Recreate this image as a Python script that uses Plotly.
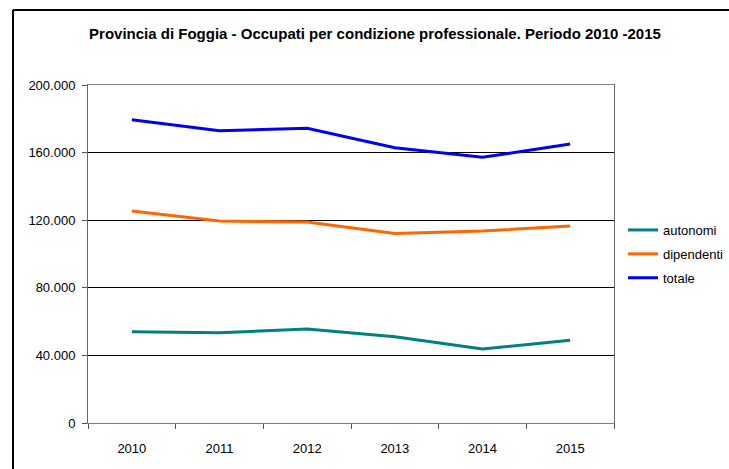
import plotly.graph_objects as go

anni = ["2010", "2011", "2012", "2013", "2014", "2015"]
autonomi = [54000, 53400, 55600, 51100, 43800, 48900]
dipendenti = [125400, 119500, 118900, 112200, 113600, 116600]
totale = [179500, 173000, 174400, 162900, 157200, 165100]

y_tickvals = [0, 40000, 80000, 120000, 160000, 200000]
y_ticktext = ["0", "40.000", "80.000", "120.000", "160.000", "200.000"]

W, H = 729, 469
L, R, T, B = 88, 115, 85, 46
pw, ph = W - L - R, H - T - B

font = "Liberation Sans, Arial, sans-serif"

fig = go.Figure()
for name, vals, col, grp in [("autonomi", autonomi, "#008080", "a"),
                             ("dipendenti", dipendenti, "#FF6600", "b"),
                             ("totale", totale, "#0000FF", "c")]:
    fig.add_trace(go.Scatter(x=anni, y=vals, name=name, mode="lines",
                             line=dict(color=col, width=3), legendgroup=grp))

def px2x(p):
    return (p - L) / pw

def py2y(p):
    return (H - B - p) / ph

# outer frame (left and top edges visible)
fig.add_shape(type="line", xref="paper", yref="paper",
              x0=px2x(13), x1=px2x(13), y0=py2y(10), y1=py2y(H + 5),
              line=dict(color="black", width=2))
fig.add_shape(type="line", xref="paper", yref="paper",
              x0=px2x(13), x1=px2x(W + 5), y0=py2y(10), y1=py2y(10),
              line=dict(color="black", width=2))

fig.update_layout(
    width=W, height=H,
    margin=dict(l=L, r=R, t=T, b=B, autoexpand=False),
    paper_bgcolor="white", plot_bgcolor="white",
    font=dict(family=font, size=13, color="black"),
    title=dict(text="<b>Provincia di Foggia - Occupati per condizione professionale. Periodo 2010 -2015</b>",
               x=375 / W, xanchor="center", y=1 - 34 / H, yanchor="middle",
               font=dict(family=font, size=15, color="black")),
    legend=dict(x=px2x(623), xanchor="left", y=py2y(254), yanchor="middle",
                font=dict(family=font, size=13, color="black"),
                bgcolor="rgba(0,0,0,0)", tracegroupgap=4),
    showlegend=True,
)
fig.update_xaxes(type="category", range=[-0.5, 5.5], tickson="boundaries",
                 ticks="outside", ticklen=5, tickcolor="#555555",
                 ticklabelstandoff=13,
                 showline=True, linecolor="#808080", mirror=True, linewidth=1,
                 showgrid=False, tickfont=dict(size=13))
fig.update_yaxes(range=[0, 200000], tickvals=y_tickvals, ticktext=y_ticktext,
                 ticks="outside", ticklen=5, tickcolor="#555555",
                 ticklabelstandoff=4,
                 showline=True, linecolor="#666666", mirror=True, linewidth=1,
                 showgrid=True, gridcolor="black", gridwidth=1,
                 zeroline=True, zerolinecolor="black", zerolinewidth=1.5,
                 tickfont=dict(size=13))

fig.write_html("out.html", config={"displayModeBar": False},
               post_script="document.body.style.margin='0';document.body.style.overflow='hidden';")
